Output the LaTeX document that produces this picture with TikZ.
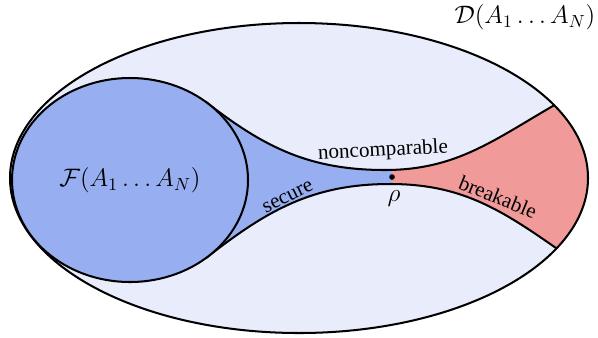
\documentclass[tikz,border=0pt]{standalone}
\usepackage{fontspec}
\newfontfamily\lblfont{Liberation Serif}
\usetikzlibrary{calc}
\definecolor{setbg}{HTML}{E9ECFA}
\definecolor{secblue}{HTML}{97AEF0}
\definecolor{brkred}{HTML}{F19A9A}
\tikzset{
  border/.style={line width=1.15pt},
  edgelbl/.style={font=\lblfont\large,inner sep=1pt}
}
\begin{document}
\begin{tikzpicture}[line cap=round,line join=round]
	\useasboundingbox (0,0) rectangle (11.96,6.74);
	% centres and meeting points
	\coordinate (dc) at (5.98,3.18);
	\coordinate (fc) at (2.6,3.14);
	\coordinate (fu) at ($(fc)+(50:2.36 and 2.04)$);
	\coordinate (fl) at ($(fc)+(-50:2.36 and 2.04)$);
	\coordinate (du) at ($(dc)+(28:5.78 and 3.1)$);
	\coordinate (dl) at ($(dc)+(-27:5.78 and 3.1)$);
	\coordinate (um) at (7.7,3.34);
	\coordinate (lm) at (7.8,3.06);
	\coordinate (rho) at (7.84,3.2);
	% regions
	\fill[setbg] (dc) ellipse [x radius=5.78,y radius=3.1];
	\fill[secblue] (fu) to[out=-38,in=180] (um) to[out=0,in=210] (du) arc[start angle=28,end angle=-27,x radius=5.78,y radius=3.1] to[out=145,in=0] (lm) to[out=180,in=38] (fl) arc[start angle=-50,end angle=50,x radius=2.36,y radius=2.04] -- cycle;
	\begin{scope}
		\clip (rho |- 0,0) rectangle (11.96,6.74);
		\fill[brkred] (fu) to[out=-38,in=180] (um) to[out=0,in=210] (du) arc[start angle=28,end angle=-27,x radius=5.78,y radius=3.1] to[out=145,in=0] (lm) to[out=180,in=38] (fl) arc[start angle=-50,end angle=50,x radius=2.36,y radius=2.04] -- cycle;
	\end{scope}
	% outlines
	\draw[border] (dc) ellipse [x radius=5.78,y radius=3.1];
	\draw[border] (fu) to[out=-38,in=180] (um) to[out=0,in=210] (du);
	\draw[border] (fl) to[out=38,in=180] (lm) to[out=0,in=145] (dl);
	\filldraw[border,fill=secblue] (fc) ellipse [x radius=2.36,y radius=2.04];
	\fill (rho) circle (1.6pt);
	% labels
	\node[edgelbl,rotate=3] (noncomp) at (7.66,3.72) {noncomparable};
	\node[edgelbl,rotate=26] (secure) at (5.76,2.8) {secure};
	\node[edgelbl,rotate=-22] (breakable) at (9.96,2.8) {breakable};
	\node (rholbl) at (7.88,2.76) {\Large$\rho$};
	\node (dlbl) at (10.5,6.4) {\Large$\mathcal{D}(A_1\ldots A_N)$};
	\node (flbl) at (fc) {\Large$\mathcal{F}(A_1\ldots A_N)$};
\end{tikzpicture}
\end{document}
